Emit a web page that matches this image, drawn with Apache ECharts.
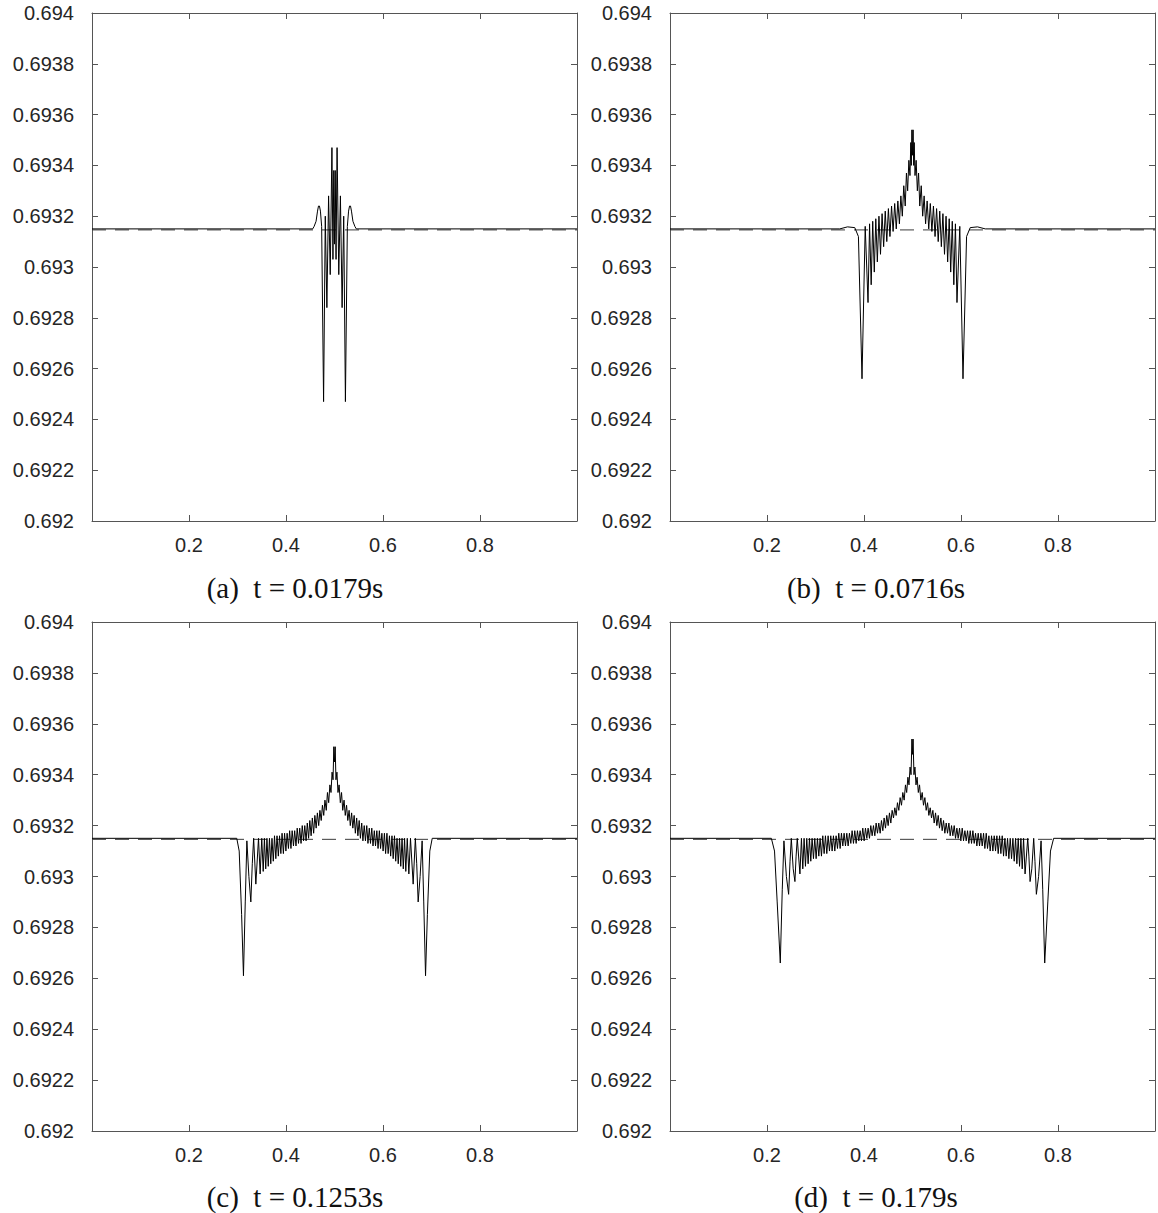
<!DOCTYPE html>
<html>
<head>
<meta charset="utf-8">
<script src="https://cdn.jsdelivr.net/npm/echarts@6/dist/echarts.min.js"></script>
<style>html,body{margin:0;padding:0;background:#fff}#c{width:1158px;height:1213px}</style>
</head>
<body>
<div id="c"></div>
<script>
// ---- data ----
const captions = ['(a)  t = 0.0179s', '(b)  t = 0.0716s', '(c)  t = 0.1253s', '(d)  t = 0.179s'];
const referenceLevel = 0.693146; // dashed line

const panelA = [
[0,0.69315],[0.455,0.69315],[0.458,0.69316],[0.462,0.69318],[0.465,0.69322],[0.467,0.69324],[0.469,0.69324],[0.471,0.69322],[0.4735,0.69316],[0.4775,0.69247],[0.4810,0.69320],[0.4843,0.69284],[0.4878,0.69328],[0.4912,0.69297],[0.4947,0.69347],[0.4968,0.69303],[0.4985,0.69338],[0.5,0.69309],
[0.5015,0.69338],[0.5032,0.69303],[0.5053,0.69347],[0.5088,0.69297],[0.5122,0.69328],[0.5157,0.69284],[0.5190,0.69320],[0.5225,0.69247],[0.5265,0.69316],[0.529,0.69322],[0.531,0.69324],[0.533,0.69324],[0.535,0.69322],[0.538,0.69318],[0.542,0.69316],[0.545,0.69315],[1,0.69315]
];

const panelB = [
[0,0.69315],[0.35,0.69315],[0.366,0.693158],[0.381,0.693155],[0.3885,0.69312],[0.3959,0.69256],[0.4025,0.69316],[0.4083,0.69286],[0.4115,0.69317],[0.4148,0.69293],[0.418,0.69318],[0.4212,0.69298],[0.4243,0.69319],[0.4275,0.69302],[0.4308,0.69320],[0.434,0.69305],[0.4373,0.69321],[0.4405,0.69308],[0.4438,0.69322],[0.447,0.69310],[0.4503,0.69323],[0.4535,0.69312],[0.4568,0.69324],[0.46,0.69314],[0.4633,0.69325],[0.4665,0.69315],[0.4698,0.69326],[0.473,0.69317],[0.476,0.69328],[0.479,0.69320],[0.482,0.69332],[0.485,0.69324],[0.4875,0.69337],[0.49,0.69330],[0.4925,0.69342],[0.4948,0.69336],[0.4965,0.69349],[0.4975,0.69340],[0.4988,0.69354],[0.5,0.69344],
[0.5012,0.69354],[0.5025,0.69340],[0.5035,0.69349],[0.5052,0.69336],[0.5075,0.69342],[0.51,0.69330],[0.5125,0.69337],[0.515,0.69324],[0.518,0.69332],[0.521,0.69320],[0.524,0.69328],[0.527,0.69317],[0.5302,0.69326],[0.5335,0.69315],[0.5367,0.69325],[0.54,0.69314],[0.5432,0.69324],[0.5465,0.69312],[0.5497,0.69323],[0.553,0.69310],[0.5562,0.69322],[0.5595,0.69308],[0.5627,0.69321],[0.566,0.69305],[0.5692,0.69320],[0.5725,0.69302],[0.5757,0.69319],[0.5788,0.69298],[0.582,0.69318],[0.5852,0.69293],[0.5885,0.69317],[0.5917,0.69286],[0.5975,0.69316],[0.6041,0.69256],[0.6115,0.69312],[0.619,0.693155],[0.634,0.693158],[0.65,0.69315],[1,0.69315]
];

const panelC = [
[0,0.69315],[0.2985,0.69315],[0.3035,0.69310],[0.3085,0.69285],[0.3123,0.69261],[0.316,0.69290],[0.3193,0.69314],[0.3235,0.69300],[0.3275,0.69290],[0.3305,0.69305],[0.3333,0.69315],[0.3378,0.69297],[0.3433,0.69315],[0.3467,0.69301],
[0.3500,0.69315],[0.3530,0.69302],[0.3555,0.69315],[0.3582,0.69303],[0.3607,0.69315],[0.3634,0.69304],[0.3659,0.69315],[0.3686,0.69305],[0.3711,0.69315],[0.3738,0.69306],[0.3763,0.69316],[0.3790,0.69307],[0.3815,0.69316],[0.3842,0.69308],[0.3867,0.69316],[0.3894,0.69309],[0.3919,0.69317],[0.3946,0.69309],[0.3971,0.69317],[0.3998,0.69310],[0.4023,0.69317],[0.4050,0.69311],[0.4075,0.69318],[0.4102,0.69311],[0.4127,0.69318],[0.4154,0.69312],[0.4179,0.69318],[0.4206,0.69312],[0.4231,0.69319],[0.4258,0.69313],[0.4283,0.69319],[0.4310,0.69313],[0.4335,0.69320],[0.4362,0.69314],[0.4387,0.69320],[0.4414,0.69314],[0.4439,0.69321],[0.4466,0.69315],[0.4491,0.69322],[0.4518,0.69316],[0.4543,0.69323],[0.4570,0.69317],[0.4595,0.69324],[0.4622,0.69319],[0.4647,0.69325],[0.4674,0.69320],[0.4699,0.69326],[0.4726,0.69322],[0.4751,0.69328],[0.4778,0.69324],[0.4803,0.69330],[0.4830,0.69326],[0.4855,0.69333],[0.4880,0.69329],[0.4905,0.69336],[0.4928,0.69333],[0.4950,0.69341],[0.4970,0.69338],[0.4986,0.69351],[0.5,0.69345],
[0.5014,0.69351],[0.5030,0.69338],[0.5050,0.69341],[0.5072,0.69333],[0.5095,0.69336],[0.5120,0.69329],[0.5145,0.69333],[0.5170,0.69326],[0.5197,0.69330],[0.5222,0.69324],[0.5249,0.69328],[0.5274,0.69322],[0.5301,0.69326],[0.5326,0.69320],[0.5353,0.69325],[0.5378,0.69319],[0.5405,0.69324],[0.5430,0.69317],[0.5457,0.69323],[0.5482,0.69316],[0.5509,0.69322],[0.5534,0.69315],[0.5561,0.69321],[0.5586,0.69314],[0.5613,0.69320],[0.5638,0.69314],[0.5665,0.69320],[0.5690,0.69313],[0.5717,0.69319],[0.5742,0.69313],[0.5769,0.69319],[0.5794,0.69312],[0.5821,0.69318],[0.5846,0.69312],[0.5873,0.69318],[0.5898,0.69311],[0.5925,0.69318],[0.5950,0.69311],[0.5977,0.69317],[0.6002,0.69310],[0.6029,0.69317],[0.6054,0.69309],[0.6081,0.69317],[0.6106,0.69309],[0.6133,0.69316],[0.6158,0.69308],[0.6185,0.69316],[0.6210,0.69307],[0.6237,0.69316],[0.6262,0.69306],[0.6289,0.69315],[0.6314,0.69305],[0.6341,0.69315],[0.6366,0.69304],[0.6393,0.69315],[0.6418,0.69303],[0.6445,0.69315],[0.6470,0.69302],[0.6500,0.69315],[0.6533,0.69301],[0.6567,0.69315],[0.6622,0.69297],[0.6667,0.69315],[0.6695,0.69305],[0.6725,0.69290],[0.6765,0.69300],[0.6807,0.69314],[0.684,0.69290],[0.6877,0.69261],[0.6915,0.69285],[0.6965,0.69310],[0.7015,0.69315],[1,0.69315]
];

const panelD = [
[0,0.69315],[0.209,0.69315],[0.2155,0.69310],[0.2210,0.69290],[0.2274,0.69266],[0.2315,0.69295],[0.2349,0.69314],[0.2400,0.69300],[0.2446,0.69293],[0.2475,0.69306],[0.2501,0.69315],[0.2540,0.69303],[0.2576,0.69298],[0.2600,0.69308],[0.2624,0.69315],[0.2679,0.69301],
[0.2710,0.69315],[0.2738,0.69303],[0.2765,0.69315],[0.2793,0.69304],[0.2820,0.69315],[0.2848,0.69305],[0.2875,0.69315],[0.2903,0.69306],[0.2930,0.69315],[0.2958,0.69307],[0.2985,0.69315],[0.3013,0.69307],[0.3040,0.69315],[0.3068,0.69308],[0.3095,0.69315],[0.3123,0.69308],[0.3150,0.69316],[0.3178,0.69309],[0.3205,0.69316],[0.3233,0.69309],[0.3260,0.69316],[0.3288,0.69310],[0.3315,0.69316],[0.3343,0.69310],[0.3370,0.69316],[0.3398,0.69310],[0.3425,0.69316],[0.3453,0.69311],[0.3480,0.69317],[0.3508,0.69311],[0.3535,0.69317],[0.3563,0.69312],[0.3590,0.69317],[0.3618,0.69312],[0.3645,0.69317],[0.3673,0.69312],[0.3700,0.69317],[0.3728,0.69313],[0.3755,0.69318],[0.3783,0.69313],[0.3810,0.69318],[0.3838,0.69313],[0.3865,0.69318],[0.3893,0.69314],[0.3920,0.69318],[0.3948,0.69314],[0.3975,0.69319],[0.4003,0.69314],[0.4030,0.69319],[0.4058,0.69315],[0.4085,0.69319],[0.4113,0.69315],[0.4140,0.69320],[0.4168,0.69316],[0.4195,0.69320],[0.4223,0.69316],[0.4250,0.69321],[0.4278,0.69317],[0.4305,0.69321],[0.4333,0.69317],[0.4360,0.69322],[0.4388,0.69318],[0.4415,0.69323],[0.4443,0.69319],[0.4470,0.69324],[0.4498,0.69320],[0.4525,0.69325],[0.4553,0.69321],[0.4580,0.69326],[0.4608,0.69323],[0.4635,0.69327],[0.4663,0.69324],[0.4690,0.69329],[0.4718,0.69326],[0.4745,0.69331],[0.4773,0.69328],[0.4800,0.69333],[0.4828,0.69330],[0.4855,0.69336],[0.4880,0.69333],[0.4905,0.69339],[0.4928,0.69336],[0.4950,0.69343],[0.4970,0.69340],[0.4988,0.69354],[0.5,0.69348],
[0.5012,0.69354],[0.5030,0.69340],[0.5050,0.69343],[0.5072,0.69336],[0.5095,0.69339],[0.5120,0.69333],[0.5145,0.69336],[0.5172,0.69330],[0.5200,0.69333],[0.5227,0.69328],[0.5255,0.69331],[0.5282,0.69326],[0.5310,0.69329],[0.5337,0.69324],[0.5365,0.69327],[0.5392,0.69323],[0.5420,0.69326],[0.5447,0.69321],[0.5475,0.69325],[0.5502,0.69320],[0.5530,0.69324],[0.5557,0.69319],[0.5585,0.69323],[0.5612,0.69318],[0.5640,0.69322],[0.5667,0.69317],[0.5695,0.69321],[0.5722,0.69317],[0.5750,0.69321],[0.5777,0.69316],[0.5805,0.69320],[0.5832,0.69316],[0.5860,0.69320],[0.5887,0.69315],[0.5915,0.69319],[0.5942,0.69315],[0.5970,0.69319],[0.5997,0.69314],[0.6025,0.69319],[0.6052,0.69314],[0.6080,0.69318],[0.6107,0.69314],[0.6135,0.69318],[0.6162,0.69313],[0.6190,0.69318],[0.6217,0.69313],[0.6245,0.69318],[0.6272,0.69313],[0.6300,0.69317],[0.6327,0.69312],[0.6355,0.69317],[0.6382,0.69312],[0.6410,0.69317],[0.6437,0.69312],[0.6465,0.69317],[0.6492,0.69311],[0.6520,0.69317],[0.6547,0.69311],[0.6575,0.69316],[0.6602,0.69310],[0.6630,0.69316],[0.6657,0.69310],[0.6685,0.69316],[0.6712,0.69310],[0.6740,0.69316],[0.6767,0.69309],[0.6795,0.69316],[0.6822,0.69309],[0.6850,0.69316],[0.6877,0.69308],[0.6905,0.69315],[0.6932,0.69308],[0.6960,0.69315],[0.6987,0.69307],[0.7015,0.69315],[0.7042,0.69307],[0.7070,0.69315],[0.7097,0.69306],[0.7125,0.69315],[0.7152,0.69305],[0.7180,0.69315],[0.7207,0.69304],[0.7235,0.69315],[0.7262,0.69303],[0.7290,0.69315],[0.7321,0.69301],[0.7376,0.69315],[0.7400,0.69308],[0.7424,0.69298],[0.7460,0.69303],[0.7499,0.69315],[0.7525,0.69306],[0.7554,0.69293],[0.7600,0.69300],[0.7651,0.69314],[0.7685,0.69295],[0.7726,0.69266],[0.7790,0.69290],[0.7845,0.69310],[0.791,0.69315],[1,0.69315]
];

const panels = [panelA, panelB, panelC, panelD];

// ---- layout ----
const grids = [
  {left: 92, top: 13, width: 485, height: 508},
  {left: 670, top: 13, width: 485, height: 508},
  {left: 92, top: 622, width: 485, height: 509},
  {left: 670, top: 622, width: 485, height: 509}
];
const captionPos = [[295, 588], [876, 588], [295, 1197], [876, 1197]];

const axisColor = '#555';
const labelFont = {color: '#262626', fontFamily: 'Liberation Sans, Arial, sans-serif', fontSize: 20};

const xAxis = [], yAxis = [], series = [];
panels.forEach((data, i) => {
  const tick = {inside: true, length: 6, lineStyle: {color: axisColor, width: 1}};
  const line = {onZero: false, lineStyle: {color: axisColor, width: 1}};
  xAxis.push({gridIndex: i, type: 'value', min: 0, max: 1, interval: 0.2, position: 'bottom',
    axisLine: line, axisTick: tick, splitLine: {show: false},
    axisLabel: Object.assign({showMinLabel: false, showMaxLabel: false, margin: 14,
      formatter: v => String(+v.toFixed(1))}, labelFont)});
  xAxis.push({gridIndex: i, type: 'value', min: 0, max: 1, interval: 0.2, position: 'top',
    axisLine: line, axisTick: tick, splitLine: {show: false}, axisLabel: {show: false}});
  yAxis.push({gridIndex: i, type: 'value', min: 0.692, max: 0.694, interval: 0.0002, position: 'left',
    axisLine: line, axisTick: tick, splitLine: {show: false},
    axisLabel: Object.assign({margin: 18, formatter: v => String(+v.toFixed(4))}, labelFont)});
  yAxis.push({gridIndex: i, type: 'value', min: 0.692, max: 0.694, interval: 0.0002, position: 'right',
    axisLine: line, axisTick: tick, splitLine: {show: false}, axisLabel: {show: false}});
  series.push({type: 'line', xAxisIndex: 2 * i, yAxisIndex: 2 * i, showSymbol: false, silent: true,
    data: [[0, referenceLevel], [1, referenceLevel]],
    lineStyle: {color: '#3a3a3a', width: 1, type: [14, 9]}});
  series.push({type: 'line', xAxisIndex: 2 * i, yAxisIndex: 2 * i, showSymbol: false, silent: true,
    data: data, clip: true, lineStyle: {color: '#000', width: 1}});
});

const graphic = captions.map((t, i) => ({
  type: 'text', x: captionPos[i][0], y: captionPos[i][1],
  style: {text: t, fill: '#111', font: '29px "Liberation Serif", "DejaVu Serif", serif',
    textAlign: 'center', textVerticalAlign: 'middle'}
}));

const chart = echarts.init(document.getElementById('c'), null, {renderer: 'svg', width: 1158, height: 1213});
chart.setOption({animation: false, backgroundColor: '#fff', grid: grids, xAxis, yAxis, series, graphic});
</script>
</body>
</html>
